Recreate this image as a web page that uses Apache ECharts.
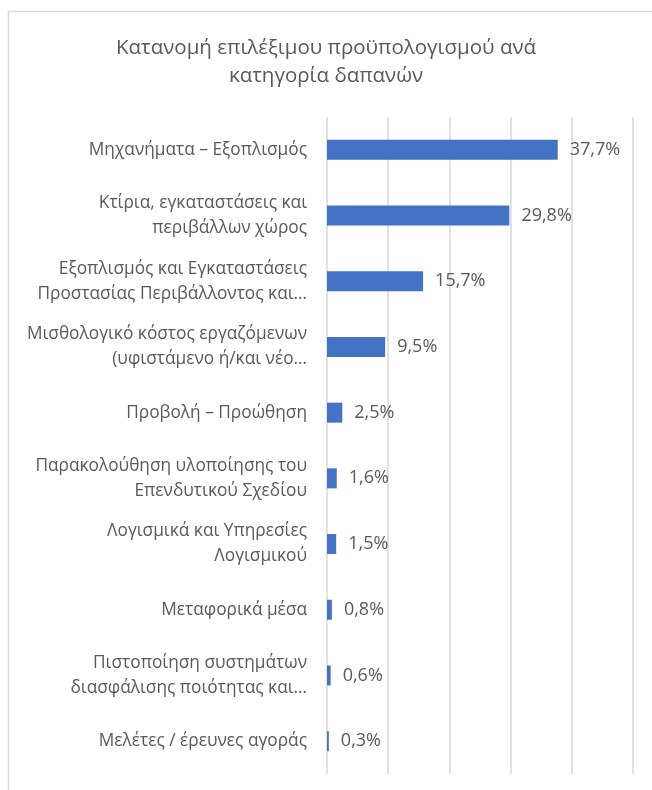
<!DOCTYPE html>
<html>
<head>
<meta charset="utf-8">
<script src="https://cdn.jsdelivr.net/npm/echarts@6/dist/echarts.min.js"></script>
<style>
html,body{margin:0;padding:0;background:#fff;}
#c{width:652px;height:790px;}
</style>
</head>
<body>
<div id="c"></div>
<script>
var categories = [
  "Μηχανήματα – Εξοπλισμός",
  "Κτίρια, εγκαταστάσεις και\nπεριβάλλων χώρος",
  "Εξοπλισμός και Εγκαταστάσεις\nΠροστασίας Περιβάλλοντος και…",
  "Μισθολογικό κόστος εργαζόμενων\n(υφιστάμενο ή/και νέο…",
  "Προβολή – Προώθηση",
  "Παρακολούθηση υλοποίησης του\nΕπενδυτικού Σχεδίου",
  "Λογισμικά και Υπηρεσίες\nΛογισμικού",
  "Μεταφορικά μέσα",
  "Πιστοποίηση συστημάτων\nδιασφάλισης ποιότητας και…",
  "Μελέτες / έρευνες αγοράς"
];
var values = [37.7, 29.8, 15.7, 9.5, 2.5, 1.6, 1.5, 0.8, 0.6, 0.3];
var titleText = "Κατανομή επιλέξιμου προϋπολογισμού ανά\nκατηγορία δαπανών";
var axisMin = 0, axisMax = 50, axisInterval = 10;

var font = "'Open Sans', 'Noto Sans', sans-serif";
var chart = echarts.init(document.getElementById('c'), null, {renderer: 'canvas'});
chart.setOption({
  animation: false,
  backgroundColor: '#fff',
  graphic: [{
    type: 'rect',
    shape: {x: 8.5, y: 11.5, width: 700, height: 820},
    style: {fill: 'none', stroke: '#d9d9d9', lineWidth: 1.5},
    silent: true
  }],
  title: {
    text: titleText,
    left: 'center',
    top: 29,
    textStyle: {fontFamily: font, fontSize: 20.5, fontWeight: 'normal', color: '#595959', lineHeight: 28}
  },
  grid: {left: 327, right: 19, top: 117, bottom: 16, containLabel: false},
  xAxis: {
    type: 'value',
    min: axisMin, max: axisMax, interval: axisInterval,
    axisLabel: {show: false},
    axisLine: {show: false},
    axisTick: {show: false},
    splitLine: {show: true, lineStyle: {color: '#d9d9d9', width: 1.5}}
  },
  yAxis: {
    type: 'category',
    inverse: true,
    data: categories,
    axisLine: {show: false},
    axisTick: {show: false},
    axisLabel: {
      margin: 20,
      color: '#595959',
      fontFamily: font,
      fontSize: 17.3,
      lineHeight: 25,
      align: 'right'
    }
  },
  series: [{
    type: 'bar',
    data: values,
    barWidth: 20,
    itemStyle: {color: '#4472C4'},
    label: {
      show: true,
      position: 'right',
      distance: 12,
      color: '#595959',
      fontFamily: font,
      fontSize: 18,
      formatter: function (p) { return p.value.toFixed(1).replace('.', ',') + '%'; }
    }
  }]
});
</script>
</body>
</html>
